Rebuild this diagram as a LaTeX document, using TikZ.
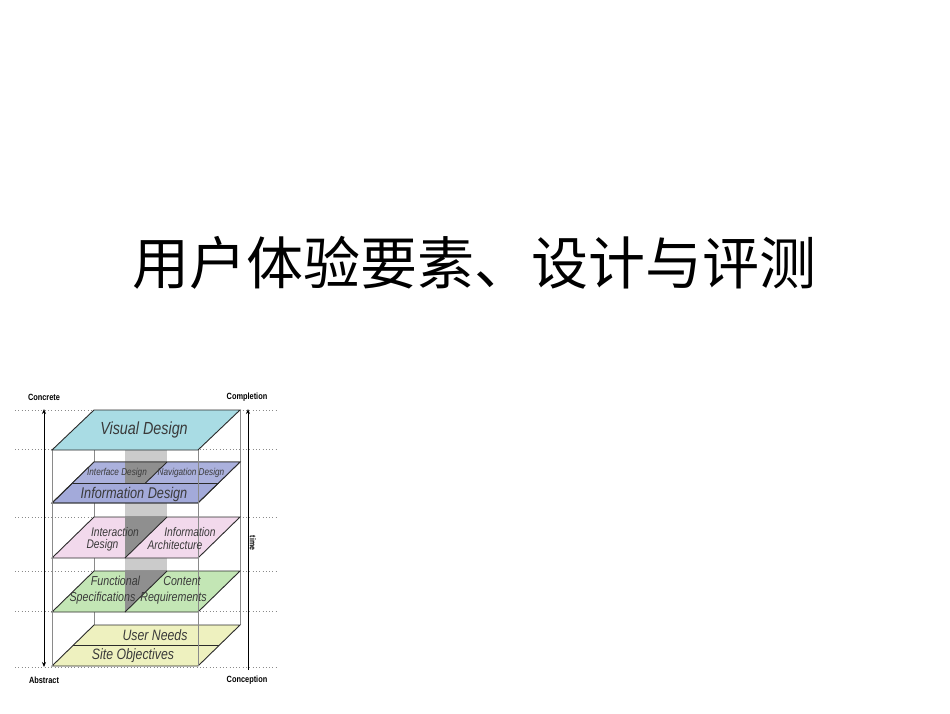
\documentclass[tikz,border=0pt]{standalone}
\usepackage{fontspec}
\setmainfont{Liberation Sans}
\newfontfamily\cjk{Noto Sans CJK SC}
\newfontfamily\lab[FakeStretch=0.82]{Liberation Sans}
\usetikzlibrary{arrows.meta}
\definecolor{cvis}{HTML}{A9DCE4}
\definecolor{cifc}{HTML}{ABB1DD}
\definecolor{cinf}{HTML}{A3AADA}
\definecolor{cpink}{HTML}{F2D9EC}
\definecolor{cgreen}{HTML}{C3E6B5}
\definecolor{cyel}{HTML}{EEF1BF}
\definecolor{cbar}{HTML}{CBCBCB}
\definecolor{cdark}{HTML}{8F8F8F}
\definecolor{cedge}{HTML}{2B2B2B}
\definecolor{ctext}{HTML}{3A3A3A}
\definecolor{cwire}{HTML}{8A8A8A}
\tikzset{
  plane/.style={draw=cedge, line width=0.9pt},
  wire/.style={draw=cwire, line width=0.8pt},
  dots/.style={draw=cwire, line width=0.9pt, dash pattern=on 0.9pt off 2.4pt},
  ptext/.style={font=\lab\itshape\fontsize{#1}{#1}\selectfont, text=ctext, inner sep=0pt, anchor=center},
  axlab/.style={font=\lab\bfseries\fontsize{9}{9}\selectfont, text=black, inner sep=0pt, anchor=center},
  axis/.style={draw=black, line width=0.8pt}
}
\begin{document}
\begin{tikzpicture}[x=1pt,y=-1pt]
\useasboundingbox (0,0) rectangle (950,713);
\fill[white] (0,0) rectangle (950,713);

% title
\node[inner sep=0pt, font=\cjk\fontsize{57}{57}\selectfont] (title) at (474,263) {用户体验要素、设计与评测};

% dotted level lines
\foreach \yy in {410,449,517,571,611,667}
  \draw[dots] (15,\yy) -- (277,\yy);

% back wire lines
\draw[wire] (94,410) -- (94,625);
\draw[wire] (240,410) -- (240,625);

% gray bar
\fill[cbar] (125,450) rectangle (167,571);

% bottom plane: User Needs / Site Objectives
\path[plane, fill=cyel] (94,625) -- (240,625) -- (198,666) -- (52,666) -- cycle;
\draw[plane] (73,645.5) -- (219,645.5);

% Functional / Content plane
\path[plane, fill=cgreen] (94,571) -- (240,571) -- (198,612) -- (52,612) -- cycle;
\fill[cdark] (125,571) -- (167,571) -- (125,612) -- cycle;
\draw[plane] (167,571) -- (125,612);

% Interaction / IA plane
\path[plane, fill=cpink] (94,517) -- (240,517) -- (198,558) -- (52,558) -- cycle;
\fill[cdark] (125,517) -- (167,517) -- (125,558) -- cycle;
\draw[plane] (167,517) -- (125,558);

% Interface/Navigation + Information design plane
\path[plane, fill=cinf] (94,462) -- (240,462) -- (198,503) -- (52,503) -- cycle;
\fill[cifc] (94,462) -- (240,462) -- (218.5,483) -- (72.5,483) -- cycle;
\fill[cdark] (125,462) -- (167,462) -- (145.5,483) -- (125,483) -- cycle;
\draw[plane] (94,462) -- (240,462) -- (198,503) -- (52,503) -- cycle;
\draw[plane] (72.5,483) -- (218.5,483);
\draw[plane] (167,462) -- (145.5,483);

% front wire lines
\draw[wire] (52,450) -- (52,666);
\draw[wire] (198,450) -- (198,666);

% top plane: Visual Design
\path[plane, fill=cvis] (94,410) -- (240,410) -- (198,450) -- (52,450) -- cycle;

% plane texts
\node[ptext=17.5] (vis) at (144,430) {Visual Design};
\node[ptext=10] (ifc) at (117,473) {Interface Design};
\node[ptext=10] (nav) at (191,473) {Navigation Design};
\node[ptext=15.5] (inf) at (134,494) {Information Design};
\node[ptext=12.5] (int1) at (115,532) {Interaction};
\node[ptext=12.5] (int2) at (102.5,545.5) {Design};
\node[ptext=12.5] (ia1) at (190,532) {Information};
\node[ptext=12.5] (ia2) at (175,545.5) {Architecture};
\node[ptext=13] (fs1) at (115.5,581) {Functional};
\node[ptext=13] (fs2) at (102.5,598) {Specifications};
\node[ptext=13] (cr1) at (182,581) {Content};
\node[ptext=13] (cr2) at (173.5,598) {Requirements};
\node[ptext=15] (un) at (155,635) {User Needs};
\node[ptext=15] (so) at (133,656) {Site Objectives};

% axis labels
\node[axlab] (concrete) at (44,397) {Concrete};
\node[axlab] (abstract) at (44,680) {Abstract};
\node[axlab] (completion) at (247,397) {Completion};
\node[axlab] (conception) at (247,680) {Conception};
\node[axlab, font=\lab\bfseries\fontsize{8.5}{8.5}\selectfont, rotate=-90] (time) at (253,543) {time};

% axes
\coordinate (lt) at (44,409);
\coordinate (lb) at (44,667);
\coordinate (rt) at (248,409);
\coordinate (rb) at (248,670);
\draw[axis, {Stealth[length=5pt,width=4pt]}-{Stealth[length=5pt,width=4pt]}] (lt) -- (lb);
\draw[axis, -{Stealth[length=5pt,width=4pt]}] (rb) -- (rt);
\end{tikzpicture}
\end{document}
